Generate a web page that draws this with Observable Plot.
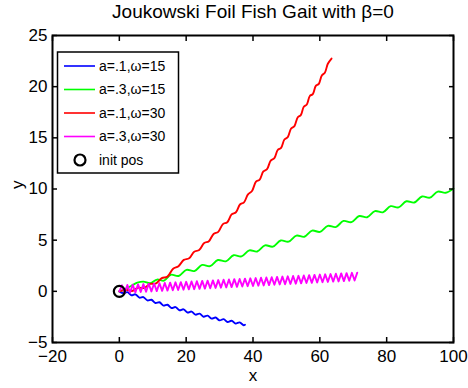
<!DOCTYPE html>
<html><head><meta charset="utf-8">
<script src="https://cdn.jsdelivr.net/npm/d3@7"></script>
<script src="https://cdn.jsdelivr.net/npm/@observablehq/plot@0.6"></script>
<style>
body{margin:0;background:#fff}
svg{font-family:"Liberation Sans",Arial,Helvetica,sans-serif}
</style>
</head><body><div id="chart"></div>
<script>
const title = "Joukowski Foil Fish Gait with β=0";
const xLabel = "x";
const yLabel = "y";
const xTicks = [-20, 0, 20, 40, 60, 80, 100];
const yTicks = [-5, 0, 5, 10, 15, 20, 25];
const seriesNames = ["a=.1,ω=15", "a=.3,ω=15", "a=.1,ω=30", "a=.3,ω=30"];
const seriesColors = ["#0000ff", "#00ff00", "#ff0000", "#ff00ff"];
const initName = "init pos";
const initPos = [[0, 0]];

const blue = [[0,0],[1.2,-0.18],[2.4,-0.08],[3.6,-0.38],[4.8,-0.29],[6.0,-0.62],[7.2,-0.56],[8.4,-0.89],[9.6,-0.82],[10.8,-1.14],[12.0,-1.07],[13.2,-1.39],[14.4,-1.31],[15.6,-1.63],[16.8,-1.54],[18.0,-1.85],[19.2,-1.76],[20.4,-2.07],[21.6,-1.98],[22.8,-2.28],[24.0,-2.18],[25.2,-2.48],[26.4,-2.38],[27.6,-2.67],[28.8,-2.56],[30.0,-2.84],[31.2,-2.72],[32.4,-3.00],[33.6,-2.87],[34.8,-3.15],[36.0,-3.03],[37.2,-3.31],[37.6,-3.27]];

const green = [[0,0],[1.6,0.2],[3.4,0.5],[5.4,0.85],[7.2,0.95],[9.3,0.8],[11.3,1.15],[13.4,1.05],[15.4,1.62],[17.75,1.50],[20.1,2.10],[22.45,1.98],[24.8,2.58],[27.15,2.46],[29.5,3.06],[31.85,2.93],[34.2,3.53],[36.55,3.41],[38.9,4.01],[41.25,3.89],[43.6,4.49],[45.95,4.37],[48.3,4.97],[50.65,4.85],[53.0,5.45],[55.35,5.33],[57.7,5.93],[60.05,5.81],[62.4,6.40],[64.75,6.28],[67.1,6.88],[69.45,6.76],[71.8,7.36],[74.15,7.24],[76.5,7.84],[78.85,7.72],[81.2,8.32],[83.55,8.20],[85.9,8.80],[88.25,8.68],[90.6,9.27],[92.95,9.15],[95.3,9.75],[97.65,9.63],[100,10.05]];

const red = [[0,0],[1.9,0.15],[3.8,0.03],[5.6,0.35],[7.4,0.32],[9.2,0.72],[11.0,0.78],[12.7,1.29],[14.4,1.44],[16.1,2.21],[17.7,2.46],[19.3,3.07],[20.9,3.23],[22.4,3.87],[23.9,4.04],[25.4,4.73],[26.8,4.90],[28.2,5.61],[29.6,5.81],[31.0,6.57],[32.3,6.75],[33.6,7.52],[34.9,7.73],[36.1,8.49],[37.3,8.69],[38.5,9.48],[39.7,9.80],[40.9,10.72],[42.0,10.92],[43.1,11.72],[44.2,11.94],[45.3,12.77],[46.4,13.01],[47.4,13.81],[48.4,14.02],[49.4,14.84],[50.4,15.07],[51.4,15.91],[52.4,16.15],[53.4,17.01],[54.3,17.22],[55.2,18.04],[56.1,18.26],[57.0,19.09],[57.9,19.28],[58.8,20.08],[59.7,20.28],[60.6,21.09],[61.5,21.36],[62.4,22.24],[63.5,22.75]];

const magenta = [[0,0],[0.8,0.59],[1.6,-0.15],[2.4,0.62],[3.2,-0.12],[4,0.65],[4.8,-0.10],[5.6,0.68],[6.4,-0.07],[7.2,0.71],
[8,-0.04],[8.8,0.74],[9.6,-0.01],[10.4,0.76],[11.2,0.02],[12,0.79],[12.8,0.05],[13.6,0.82],[14.4,0.07],[15.2,0.85],
[16,0.10],[16.8,0.88],[17.6,0.13],[18.4,0.90],[19.2,0.16],[20,0.93],[20.8,0.19],[21.6,0.96],[22.4,0.21],[23.2,0.99],
[24,0.24],[24.8,1.02],[25.6,0.27],[26.4,1.04],[27.2,0.30],[28,1.07],[28.8,0.33],[29.6,1.10],[30.4,0.36],[31.2,1.13],
[32,0.38],[32.8,1.16],[33.6,0.41],[34.4,1.19],[35.2,0.44],[36,1.21],[36.8,0.47],[37.6,1.24],[38.4,0.50],[39.2,1.27],
[40,0.52],[40.8,1.30],[41.6,0.55],[42.4,1.33],[43.2,0.58],[44,1.35],[44.8,0.61],[45.6,1.38],[46.4,0.64],[47.2,1.41],
[48,0.67],[48.8,1.44],[49.6,0.69],[50.4,1.47],[51.2,0.72],[52,1.50],[52.8,0.75],[53.6,1.52],[54.4,0.78],[55.2,1.55],
[56,0.81],[56.8,1.58],[57.6,0.83],[58.4,1.61],[59.2,0.86],[60,1.64],[60.8,0.89],[61.6,1.66],[62.4,0.92],[63.2,1.69],
[64,0.95],[64.8,1.72],[65.6,0.97],[66.4,1.75],[67.2,1.00],[68,1.78],[68.8,1.03],[69.6,1.81],[70.4,1.06],[71.2,1.83]];

const seriesPoints = [blue, green, red, magenta];
const seriesCurves = ["catmull-rom", "catmull-rom", "catmull-rom", "linear"];

const W = 468, H = 388;
const M = {left: 52, right: 15, top: 35, bottom: 46};

const lineMarks = seriesPoints.map((pts, i) =>
  Plot.line(pts, {x: d => d[0], y: d => d[1], stroke: seriesColors[i], strokeWidth: 1.9, curve: seriesCurves[i]})
);

const svg = Plot.plot({
  width: W, height: H,
  marginLeft: M.left, marginRight: M.right, marginTop: M.top, marginBottom: M.bottom,
  style: {fontFamily: '"Liberation Sans",Arial,sans-serif', fontSize: "17px", color: "black", background: "white", overflow: "visible"},
  x: {domain: [-20, 100]},
  y: {domain: [-5, 25]},
  marks: [
    ...lineMarks,
    Plot.dot(initPos, {x: d => d[0], y: d => d[1], r: 5.5, stroke: "black", strokeWidth: 2.2, fill: "none"}),
    Plot.axisX({anchor: "bottom", ticks: xTicks, tickSize: -5, tickPadding: 12, strokeWidth: 1.5, label: null, fontSize: 17}),
    Plot.axisX({anchor: "top", ticks: xTicks, tickSize: -5, tickFormat: () => "", strokeWidth: 1.5, label: null}),
    Plot.axisY({anchor: "left", ticks: yTicks, tickSize: -5, tickPadding: 10, strokeWidth: 1.5, label: null, fontSize: 17}),
    Plot.axisY({anchor: "right", ticks: yTicks, tickSize: -5, tickFormat: () => "", strokeWidth: 1.5, label: null}),
    Plot.frame({stroke: "black", strokeWidth: 2}),
    Plot.text([title], {frameAnchor: "top", text: d => d, dy: -18, lineAnchor: "bottom", fontSize: 19}),
    Plot.text([xLabel], {frameAnchor: "bottom", text: d => d, dy: 33, lineAnchor: "middle", fontSize: 17}),
    Plot.text([yLabel], {frameAnchor: "left", text: d => d, dx: -35, rotate: -90, lineAnchor: "middle", fontSize: 17})
  ]
});

// legend box inside the axes, top-left
const lg = d3.select(svg).append("g").attr("class", "legend").attr("text-anchor", "start");
const box = {x: 57.5, y: 52, w: 121, h: 121};
lg.append("rect").attr("x", box.x).attr("y", box.y).attr("width", box.w).attr("height", box.h)
  .attr("fill", "white").attr("stroke", "black").attr("stroke-width", 1.5);
const rowY = i => box.y + 14 + i * 23.5;
seriesNames.forEach((name, i) => {
  lg.append("line").attr("x1", 64).attr("x2", 95).attr("y1", rowY(i)).attr("y2", rowY(i))
    .attr("stroke", seriesColors[i]).attr("stroke-width", 1.6);
  lg.append("text").attr("x", 99).attr("y", rowY(i)).attr("dy", "0.35em").attr("text-anchor", "start")
    .attr("font-size", 14).attr("fill", "black").text(name);
});
lg.append("circle").attr("cx", 80).attr("cy", rowY(4)).attr("r", 5.5)
  .attr("fill", "none").attr("stroke", "black").attr("stroke-width", 2.2);
lg.append("text").attr("x", 99).attr("y", rowY(4)).attr("dy", "0.35em").attr("text-anchor", "start")
  .attr("font-size", 14).attr("fill", "black").text(initName);

document.getElementById("chart").appendChild(svg);
</script>
</body></html>
